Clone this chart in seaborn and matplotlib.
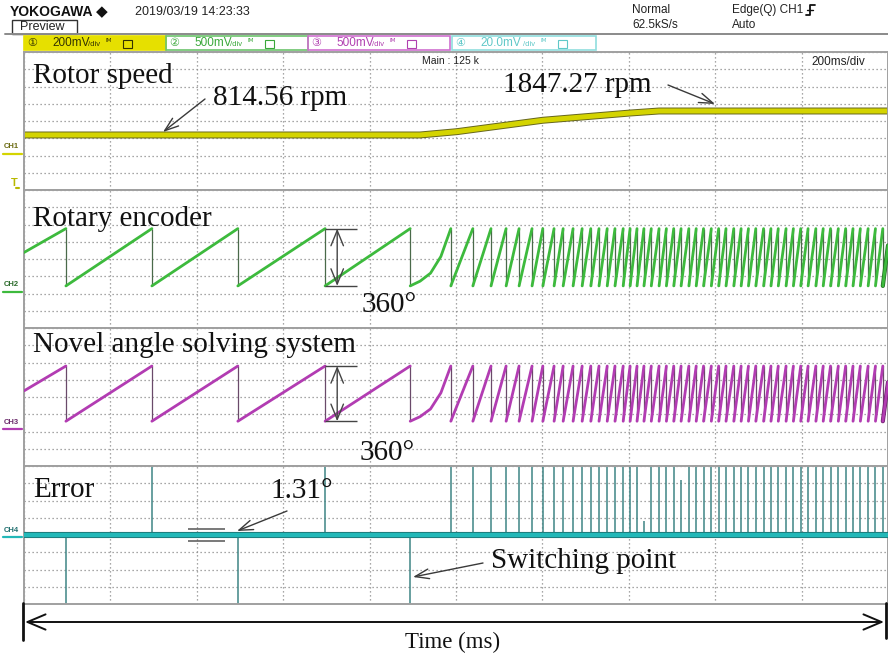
import numpy as np
import pandas as pd
import matplotlib
matplotlib.use("Agg")
import matplotlib.pyplot as plt
import matplotlib.patheffects as pe
from matplotlib.patches import Rectangle
import seaborn as sns

sns.set_style("white")
plt.rcParams['font.family'] = ['DejaVu Sans', 'Noto Sans CJK JP']

# ---------------- data ----------------
T_END = 2000  # 10 div x 200 ms/div

# rotor speed trace (CH1)
speed_t = [0, 917, 1002, 1201, 1403, 1470, 2000]
speed_rpm = [814.56, 814.56, 957, 1448, 1760, 1847.27, 1847.27]

# instants where the angle wraps from 360 deg back to 0 deg (CH2 / CH3)
wrap_t = [97, 296, 495, 697, 894, 988, 1039, 1081, 1116, 1146, 1176, 1201,
          1227, 1248, 1271, 1292, 1312, 1331, 1350, 1368, 1387, 1403, 1419,
          1435, 1452, 1470, 1487, 1504, 1521, 1539, 1556, 1573, 1591, 1608,
          1625, 1643, 1660, 1677, 1694, 1712, 1729, 1746, 1764, 1781, 1798,
          1815, 1833, 1850, 1867, 1885, 1902, 1919, 1936, 1954, 1971, 1988]
enc_start_deg = 210
novel_start_deg = 198
# curved first ramp while accelerating (segment starting at 894 ms)
ramp_bend_t = [917, 941, 965]
ramp_bend_deg = [30, 80, 185]

# error channel (CH4): spike height at each wrap instant (deg, clipped by screen)
spike_deg = [-360, 360, -360, 360, -360, 360, 360, 360, 360, 360, 360, 360,
             360, 360, 360, 360, 360, 360, 360, 360, 360, 360, 360,
             1.5, 360, 360, 360, 360, 6.0, 360, 360, 360, 360, 360,
             360, 360, 360, 360, 360, 360, 360, 360, 360, 360, 360,
             360, 360, 360, 360, 360, 360, 360, 360, 360, 360, 360]
err_t = [0, 2000]
err_deg = [0, 0]
err_band = 1.31

# ---------------- figure ----------------
W, H = 888, 657
fig = plt.figure(figsize=(W / 100, H / 100), dpi=100)
fig.patch.set_facecolor('white')

SCR_L, SCR_R = 24, 888
PANEL_TOP, PANEL_H = 52, 138

axes = []
for i in range(4):
    top = PANEL_TOP + i * PANEL_H
    ax = fig.add_axes([SCR_L / W, 1 - (top + PANEL_H) / H,
                       (SCR_R - SCR_L) / W, PANEL_H / H])
    axes.append(ax)
ax1, ax2, ax3, ax4 = axes

ylims = [(-1555.6, 4388.4), (-264.5, 602.7), (-292.0, 608.0), (-7.5, 7.5)]


def style_panel(ax, ylim):
    ax.set_xlim(0, T_END)
    ax.set_ylim(*ylim)
    ax.set_xticks(np.arange(0, T_END + 1, 200))
    ax.set_yticks(np.linspace(ylim[0], ylim[1], 9))
    ax.tick_params(length=0, labelbottom=False, labelleft=False)
    ax.grid(True, color='#8a8a8a', linestyle=(0, (1, 2.2)), lw=0.9)
    for s in ax.spines.values():
        s.set_color('#a0a0a0')
        s.set_linewidth(1.4)
    ax.set_xlabel('')
    ax.set_ylabel('')
    ax.set_facecolor('white')


def saw_frame(drops, start_deg):
    rows = []
    starts = [0] + drops
    ends = drops + [T_END]
    for k, (a, b) in enumerate(zip(starts, ends)):
        y0 = start_deg if k == 0 else 0
        if k == len(drops):
            y1 = 360 * (b - a) / (drops[-1] - drops[-2])
        else:
            y1 = 360
        pts = [(a, y0)]
        if a == 894:
            pts += list(zip(ramp_bend_t, ramp_bend_deg))
        pts.append((b, y1))
        for t, d in pts:
            rows.append((k, t, d))
    return pd.DataFrame(rows, columns=['seg', 't', 'deg'])


# CH1 rotor speed
sp = pd.DataFrame({'t': speed_t, 'rpm': speed_rpm})
sns.lineplot(data=sp, x='t', y='rpm', ax=ax1, color='#d4d400', lw=3.6,
             estimator=None, sort=False, legend=False)
ax1.lines[-1].set_path_effects([pe.Stroke(linewidth=5.0, foreground='#66661e'), pe.Normal()])

# CH2 encoder / CH3 novel system
for ax, start, col, edge, dropcol in [
        (ax2, enc_start_deg, '#3dba3d', '#1f6a1f', '#4a6a4a'),
        (ax3, novel_start_deg, '#b23cb2', '#6a1e6a', '#6a4a6a')]:
    ax.vlines(wrap_t, 0, 360, color=dropcol, lw=0.9, zorder=2)
    df = saw_frame(wrap_t, start)
    sns.lineplot(data=df, x='t', y='deg', units='seg', estimator=None,
                 sort=False, color=col, lw=2.0, ax=ax, legend=False)
    ax.lines[-1].set_path_effects([pe.Stroke(linewidth=3.0, foreground=edge), pe.Normal()])
    for ln in ax.lines:
        ln.set_zorder(3)

# CH4 error
ax4.vlines(wrap_t, 0, spike_deg, color='#3f8585', lw=1.1, zorder=2)
er = pd.DataFrame({'t': err_t, 'deg': err_deg})
sns.lineplot(data=er, x='t', y='deg', ax=ax4, color='#22b8b8', lw=3.2,
             estimator=None, sort=False, legend=False)
ax4.lines[-1].set_path_effects([pe.Stroke(linewidth=4.4, foreground='#1e6e6e'), pe.Normal()])
ax4.lines[-1].set_zorder(3)

for ax, yl in zip(axes, ylims):
    style_panel(ax, yl)

# 360 deg brackets
for ax in (ax2, ax3):
    ax.hlines([0, 360], 697, 771, color='#444444', lw=1.0, zorder=4)
    ax.annotate('', xy=(725, 360), xytext=(725, 0),
                arrowprops=dict(arrowstyle='<->,head_length=1.1,head_width=0.45',
                                color='#444444', lw=1.0, shrinkA=0, shrinkB=0), zorder=4)

# 1.31 deg band marks
ax4.hlines([err_band / 2, -err_band / 2], 380, 465, color='#555555', lw=1.1, zorder=4)

# ---------------- overlay (screen furniture & labels) ----------------
ov = fig.add_axes([0, 0, 1, 1], zorder=10)
ov.set_xlim(0, W)
ov.set_ylim(H, 0)
ov.axis('off')
ov.patch.set_alpha(0)

SANS = ['Liberation Sans', 'DejaVu Sans', 'Noto Sans CJK JP']
SERIF = ['Liberation Serif', 'DejaVu Serif']
INK = '#222222'

ov.text(10, 12, 'YOKOGAWA', fontsize=10, family=SANS, weight='bold', va='center', color='#111111')
ov.text(96, 12, '◆', fontsize=11, family=['DejaVu Sans'], va='center', color='#111111')
ov.text(135, 12, '2019/03/19 14:23:33', fontsize=9, family=SANS, va='center', color=INK)
ov.add_patch(Rectangle((12, 20), 65, 13.5, fill=False, ec='#333333', lw=1.0))
ov.text(20, 27.5, 'Preview', fontsize=9, family=SANS, va='center', color=INK)
ov.plot([5, 888], [33.5, 33.5], color='#8a8a8a', lw=1.4)

ov.text(632, 10, 'Normal', fontsize=8.5, family=SANS, va='center', color=INK)
ov.text(632, 25, '62.5kS/s', fontsize=8.5, family=SANS, va='center', color=INK)
ov.text(732, 10, 'Edge(Q) CH1', fontsize=8.5, family=SANS, va='center', color=INK)
ov.plot([806, 810, 810, 815], [15, 15, 5, 5], color='#111111', lw=1.3)
ov.plot([807, 813], [10, 10], color='#111111', lw=1.0)
ov.text(732, 25, 'Auto', fontsize=8.5, family=SANS, va='center', color=INK)

# channel setting boxes: x0, x1, face, edge, text colour, number, volts, /div offset
boxes = [(24, 166, '#e6e000', '#e6e000', '#333300', '①', '200mV', 64),
         (166, 308, 'none', '#6cc46c', '#3aa83a', '②', '500mV', 64),
         (308, 450, 'none', '#d070d0', '#b040b0', '③', '500mV', 64),
         (452, 596, 'none', '#90dede', '#60c8c8', '④', '20.0mV', 71)]
for x0, x1, fc, ec, tc, num, volt, dv in boxes:
    ov.add_patch(Rectangle((x0, 36), x1 - x0, 14, fc=fc, ec=ec, lw=1.2))
    ov.text(x0 + 3, 43.5, num, fontsize=8, family=['DejaVu Sans', 'Noto Sans CJK JP'],
            va='center', color=tc)
    ov.text(x0 + 28, 43.5, volt, fontsize=8.5, family=SANS, va='center', color=tc)
    ov.text(x0 + dv, 45, '/div', fontsize=5.5, family=SANS, va='center', color=tc)
    ov.text(x0 + dv + 17, 42, 'ᴵᴹ', fontsize=6.5, family=['DejaVu Sans'], va='center', color=tc)
    ov.add_patch(Rectangle((x0 + dv + 35, 39.5), 9, 8, fill=False, ec=tc, lw=0.8))

ov.text(422, 61, 'Main : 125 k', fontsize=7.5, family=SANS, va='center', color=INK)
ov.text(811, 62, '200ms/div', fontsize=8.5, family=SANS, va='center', color=INK)

# channel markers at left
for y, txt, col, tcol in [(147, 'CH1', '#d4d400', '#6a6a10'),
                          (285, 'CH2', '#3dba3d', '#2a6a2a'),
                          (422, 'CH3', '#b23cb2', '#6a2a6a'),
                          (530, 'CH4', '#22b8b8', '#1e6e6e')]:
    ov.text(4, y, txt, fontsize=5.5, family=SANS, va='center', color=tcol, weight='bold')
    ov.plot([3, 22], [y + 7, y + 7], color=col, lw=1.6)
ov.text(11, 183, 'T', fontsize=8, family=SANS, va='center', color='#b8b800', weight='bold')
ov.plot([16, 19], [188, 188], color='#b8b800', lw=1.5)

# annotations (serif, as in the published figure)
TXT = '#111111'
ov.text(33, 83, 'Rotor speed', fontsize=21, family=SERIF, va='baseline', color=TXT)
ov.text(213, 105, f'{speed_rpm[0]:.2f} rpm', fontsize=21, family=SERIF, va='baseline', color=TXT)
ov.text(503, 92, f'{speed_rpm[-1]:.2f} rpm', fontsize=21, family=SERIF, va='baseline', color=TXT)
ov.text(33, 226, 'Rotary encoder', fontsize=21, family=SERIF, va='baseline', color=TXT)
ov.text(362, 312, '360°', fontsize=21, family=SERIF, va='baseline', color=TXT)
ov.text(33, 352, 'Novel angle solving system', fontsize=21, family=SERIF, va='baseline', color=TXT)
ov.text(360, 460, '360°', fontsize=21, family=SERIF, va='baseline', color=TXT)
ov.text(33, 497, 'Error', fontsize=21, family=SERIF, va='baseline', color=TXT)
ov.text(270, 498, f'{err_band:.2f}°', fontsize=21, family=SERIF, va='baseline', color=TXT)
ov.text(491, 568, 'Switching point', fontsize=21, family=SERIF, va='baseline', color=TXT)
ov.text(453, 648, 'Time (ms)', fontsize=16.5, family=SERIF, va='baseline', ha='center', color=TXT)

arrow = dict(arrowstyle='->,head_length=1.0,head_width=0.35', color='#3a3a3a', lw=1.0,
             shrinkA=0, shrinkB=0)
ov.annotate('', xy=(163, 132), xytext=(205, 99), arrowprops=arrow)
ov.annotate('', xy=(715, 104), xytext=(668, 85), arrowprops=arrow)
ov.annotate('', xy=(237, 531), xytext=(287, 511), arrowprops=arrow)
ov.annotate('', xy=(413, 577), xytext=(483, 563), arrowprops=arrow)

# time axis arrow
ov.annotate('', xy=(884, 622), xytext=(25, 622),
            arrowprops=dict(arrowstyle='<->,head_length=1.3,head_width=0.55', color='#111111',
                            lw=1.4, shrinkA=0, shrinkB=0))
ov.plot([23, 23], [603, 640], color='#111111', lw=2.0)
ov.plot([886, 886], [603, 638], color='#111111', lw=2.0)

fig.savefig('out.png', dpi=100, facecolor='white')
